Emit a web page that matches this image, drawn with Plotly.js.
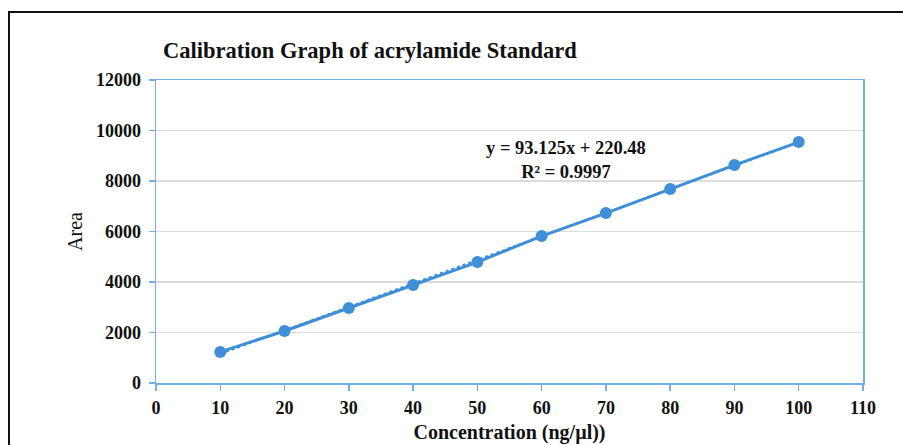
<!DOCTYPE html>
<html>
<head>
<meta charset="utf-8">
<script src="https://cdn.plot.ly/plotly-3.0.1.min.js"></script>
<style>
  html, body { margin: 0; padding: 0; background: #fff; overflow: hidden; }
  #frame { position: absolute; left: 8px; top: 11px; width: 1200px; height: 1000px; border: 2px solid #111; box-sizing: border-box; }
  #chart { position: absolute; left: 0; top: 0; width: 903px; height: 445px; }
</style>
</head>
<body>
<div id="frame"></div>
<div id="chart"></div>
<script>
// Data
const concentration = [10, 20, 30, 40, 50, 60, 70, 80, 90, 100];
const area = [1230, 2060, 2970, 3880, 4790, 5820, 6730, 7680, 8630, 9540];
// Trendline coefficients shown on the chart
const slope = 93.125;
const intercept = 220.48;
const rSquared = 0.9997;
const xTicks = [0, 10, 20, 30, 40, 50, 60, 70, 80, 90, 100, 110];
const yTicks = [0, 2000, 4000, 6000, 8000, 10000, 12000];

const trendX = [concentration[0], concentration[concentration.length - 1]];
const trendY = trendX.map(x => slope * x + intercept);

const blue = '#3f8ed8';
const axisBlue = '#74aee6';
const serif = '"Liberation Serif", "Times New Roman", serif';

const traces = [
  {
    x: trendX, y: trendY, type: 'scatter', mode: 'lines',
    line: { color: blue, width: 2, dash: 'dot' }, hoverinfo: 'skip'
  },
  {
    x: concentration, y: area, type: 'scatter', mode: 'lines+markers',
    line: { color: blue, width: 3 },
    marker: { color: blue, size: 12 }
  }
];

const layout = {
  width: 903, height: 445,
  paper_bgcolor: 'rgba(0,0,0,0)', plot_bgcolor: '#fff',
  showlegend: false,
  margin: { l: 156, r: 40, t: 80, b: 62 },
  title: {
    text: '<b>Calibration Graph of acrylamide Standard</b>',
    font: { family: serif, size: 22.5, color: '#111' },
    x: 163 / 903, xanchor: 'left', xref: 'container',
    y: 1 - 50 / 445, yanchor: 'middle', yref: 'container'
  },
  xaxis: {
    range: [0, 110], tickvals: xTicks, ticktext: xTicks.map(v => '<b>' + v + '</b>'),
    showgrid: false, zeroline: false,
    showline: true, linecolor: axisBlue, linewidth: 1.5, mirror: true,
    ticks: 'outside', ticklen: 6, tickcolor: axisBlue, tickwidth: 1.5,
    ticklabelstandoff: 2,
    tickfont: { family: serif, size: 18, color: '#111' },
    title: { text: '<b>Concentration (ng/µl))</b>', font: { family: serif, size: 20, color: '#111' }, standoff: 8 }
  },
  yaxis: {
    range: [0, 12000], tickvals: yTicks, ticktext: yTicks.map(v => '<b>' + v + '</b>'),
    showgrid: true, gridcolor: '#dcdcdc', gridwidth: 1.5, zeroline: false,
    showline: true, linecolor: axisBlue, linewidth: 1.5, mirror: true,
    ticks: 'outside', ticklen: 6, tickcolor: axisBlue, tickwidth: 1.5,
    ticklabelstandoff: 4,
    tickfont: { family: serif, size: 18, color: '#111' },
    title: { text: 'Area', font: { family: serif, size: 20, color: '#111' }, standoff: 8 }
  },
  annotations: [
    {
      xref: 'x', yref: 'y', x: 63.8, y: 8850,
      text: '<b>y = ' + slope + 'x + ' + intercept + '</b><br><b>R² = ' + rSquared + '</b>',
      showarrow: false, align: 'center',
      font: { family: serif, size: 18.5, color: '#111' }
    }
  ]
};

Plotly.newPlot('chart', traces, layout, { displayModeBar: false, staticPlot: true });
</script>
</body>
</html>
